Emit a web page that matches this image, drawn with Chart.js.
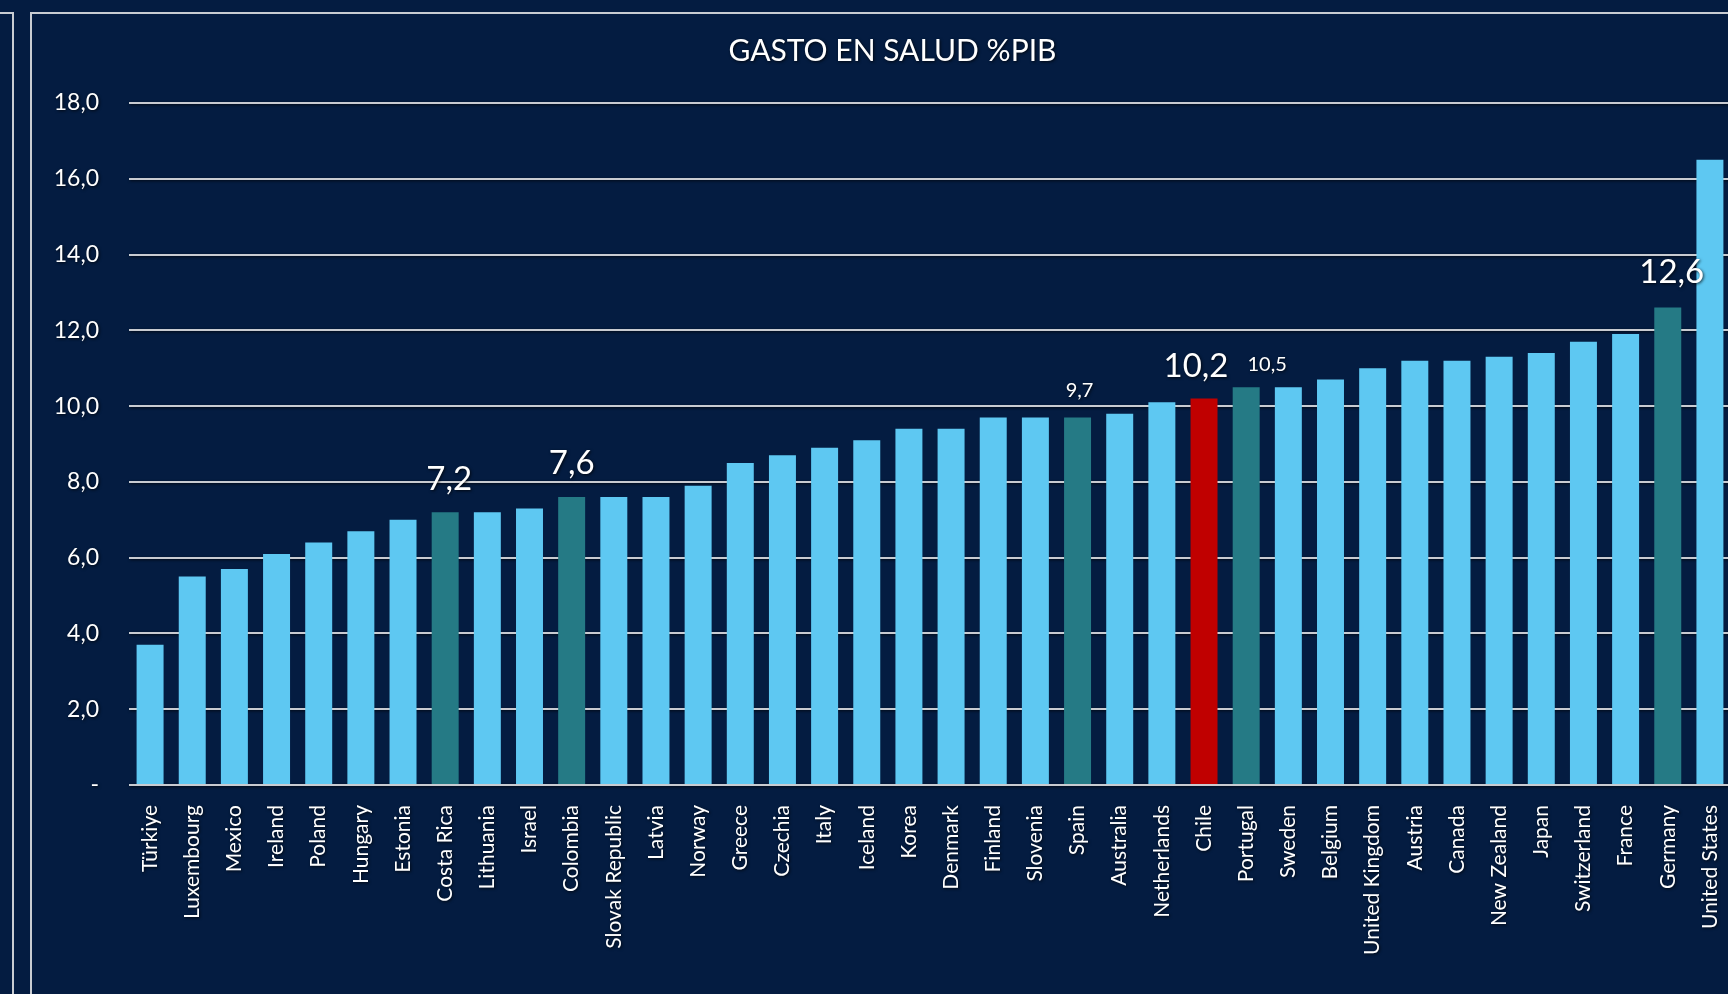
<!DOCTYPE html>
<html>
<head>
<meta charset="utf-8">
<script src="https://cdn.jsdelivr.net/npm/chart.js@4"></script>
<style>
  html, body { margin: 0; padding: 0; background: #041c41; overflow: hidden; width: 1728px; height: 994px; }
  .side { position: absolute; left: -2px; top: 12px; width: 14px; height: 1000px; border-top: 2px solid #c9ccd2; border-right: 2px solid #c9ccd2; }
  .frame { position: absolute; left: 30px; top: 12px; border-top: 2px solid #c9ccd2; border-left: 2px solid #c9ccd2; }
  canvas { display: block; }
</style>
</head>
<body>
<div class="side"></div>
<div class="frame"><canvas id="chart" width="1740" height="980"></canvas></div>
<script>
const countries = ["Türkiye", "Luxembourg", "Mexico", "Ireland", "Poland", "Hungary", "Estonia", "Costa Rica",
  "Lithuania", "Israel", "Colombia", "Slovak Republic", "Latvia", "Norway", "Greece", "Czechia", "Italy",
  "Iceland", "Korea", "Denmark", "Finland", "Slovenia", "Spain", "Australia", "Netherlands", "Chile",
  "Portugal", "Sweden", "Belgium", "United Kingdom", "Austria", "Canada", "New Zealand", "Japan",
  "Switzerland", "France", "Germany", "United States"];
const healthSpend = [3.7, 5.5, 5.7, 6.1, 6.4, 6.7, 7.0, 7.2, 7.2, 7.3, 7.6, 7.6, 7.6, 7.9, 8.5, 8.7, 8.9,
  9.1, 9.4, 9.4, 9.7, 9.7, 9.7, 9.8, 10.1, 10.2, 10.5, 10.5, 10.7, 11.0, 11.2, 11.2, 11.3, 11.4,
  11.7, 11.9, 12.6, 16.5];
const peerCountries = ["Costa Rica", "Colombia", "Spain", "Portugal", "Germany"];
const homeCountry = "Chile";
const labelledCountries = ["Costa Rica", "Colombia", "Spain", "Chile", "Portugal", "Germany"];
const yTicks = [0, 2, 4, 6, 8, 10, 12, 14, 16, 18];

// label look: size and nudge from bar top
const labelStyle = {
  "Costa Rica": { size: 33, dx: 4, dy: -33 },
  "Colombia": { size: 33, dx: 0, dy: -34 },
  "Spain": { size: 20, dx: 2, dy: -27 },
  "Chile": { size: 33, dx: -8, dy: -32 },
  "Portugal": { size: 20, dx: 21, dy: -23 },
  "Germany": { size: 33, dx: 4, dy: -35 }
};

const barColors = countries.map((c) =>
  c === homeCountry ? "#c00000" : peerCountries.includes(c) ? "#257a85" : "#5ec8f2");

const fmt = (v) => v.toFixed(1).replace(".", ",");
const FONT = "Lato, 'Open Sans', sans-serif";

const shadowOn = (ctx) => {
  ctx.shadowColor = "rgba(0,0,0,0.75)";
  ctx.shadowBlur = 3;
  ctx.shadowOffsetX = 1;
  ctx.shadowOffsetY = 1;
};
const shadowOff = (ctx) => {
  ctx.shadowColor = "rgba(0,0,0,0)";
  ctx.shadowBlur = 0;
  ctx.shadowOffsetX = 0;
  ctx.shadowOffsetY = 0;
};

const textShadow = {
  id: "textShadow",
  beforeDraw(chart) { shadowOn(chart.ctx); },
  beforeDatasetsDraw(chart) { shadowOff(chart.ctx); }
};

const valueLabels = {
  id: "valueLabels",
  afterDatasetsDraw(chart) {
    const ctx = chart.ctx;
    const meta = chart.getDatasetMeta(0);
    ctx.save();
    shadowOn(ctx);
    ctx.fillStyle = "#ffffff";
    ctx.textAlign = "center";
    ctx.textBaseline = "middle";
    labelledCountries.forEach((c) => {
      const i = countries.indexOf(c);
      const bar = meta.data[i];
      const st = labelStyle[c];
      ctx.font = st.size + "px " + FONT;
      ctx.fillText(fmt(healthSpend[i]), bar.x + st.dx, bar.y + st.dy);
    });
    ctx.restore();
  }
};

new Chart(document.getElementById("chart"), {
  type: "bar",
  data: {
    labels: countries,
    datasets: [{
      data: healthSpend,
      backgroundColor: barColors,
      borderWidth: 0,
      barPercentage: 0.64,
      categoryPercentage: 1
    }]
  },
  options: {
    responsive: false,
    devicePixelRatio: 1,
    animation: false,
    layout: { padding: { top: 0, right: 41, left: 22, bottom: 0 } },
    plugins: {
      legend: { display: false },
      tooltip: { enabled: false },
      title: {
        display: true,
        text: "GASTO EN SALUD %PIB",
        color: "#ffffff",
        font: { family: FONT, size: 30, weight: "normal" },
        padding: { top: 19, bottom: 34 }
      }
    },
    scales: {
      x: {
        grid: { display: false, drawTicks: false },
        border: { display: false },
        ticks: {
          color: "#ffffff",
          font: { family: FONT, size: 21 },
          minRotation: 90,
          maxRotation: 90,
          autoSkip: false,
          padding: 20
        },
        afterFit(scale) { scale.height = 209; }
      },
      y: {
        min: 0,
        max: 18,
        afterBuildTicks(scale) { scale.ticks = yTicks.map((v) => ({ value: v })); },
        grid: { color: "#c8cbd1", lineWidth: 2, drawTicks: false },
        border: { display: false },
        ticks: {
          color: "#ffffff",
          font: { family: FONT, size: 23 },
          padding: 30,
          callback: (v) => (v === 0 ? "-" : fmt(v))
        },
        afterFit(scale) { scale.width = 75; }
      }
    }
  },
  plugins: [textShadow, valueLabels]
});
</script>
</body>
</html>
